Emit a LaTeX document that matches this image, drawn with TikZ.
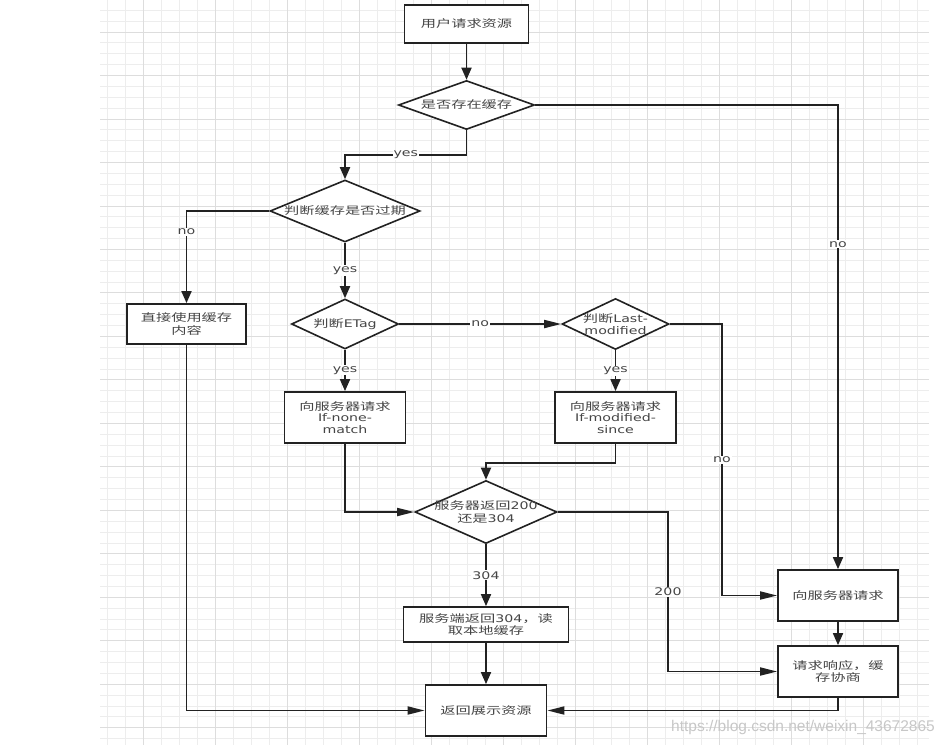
\documentclass[tikz,border=0pt]{standalone}
\usepackage{fontspec}
\newfontfamily\cjk[FakeStretch=1.45]{Noto Sans CJK SC}
\newfontfamily\lat[FakeStretch=1.35]{DejaVu Sans}
\newfontfamily\wmfont{Liberation Sans}
\usetikzlibrary{arrows.meta,shapes.geometric}
\definecolor{ink}{HTML}{222222}
\definecolor{txtc}{HTML}{454545}
\definecolor{gridc}{HTML}{EDEDED}
\definecolor{gridd}{HTML}{DDDDDD}
\tikzset{
  box/.style={draw=ink, line width=1.8pt, fill=white, inner sep=0pt},
  dia/.style={diamond, draw=ink, line width=1.6pt, fill=white, inner sep=0pt},
  txt/.style={text=txtc, font=\cjk\fontsize{10.5}{12.5}\selectfont, align=center, inner sep=0pt},
  lbl/.style={fill=white, text=txtc, font=\lat\fontsize{10.5}{12}\selectfont, inner sep=1pt},
  wire/.style={draw=ink, line width=1.8pt},
  conn/.style={wire, -{Triangle[length=12pt,width=10pt]}},
  connh/.style={wire, -{Triangle[length=17pt,width=8pt]}},
}
\begin{document}
\begin{tikzpicture}[x=1pt,y=-1pt]
\useasboundingbox (0,0) rectangle (949,745);
\fill[white] (0,0) rectangle (949,745);
% grid
\foreach \i in {0,...,45} \draw[gridc, line width=0.8pt] ({107+18*\i},0) -- ({107+18*\i},745);
\foreach \j in {0,...,67} \draw[gridc, line width=0.8pt] (100,{10.26+10.87*\j}) -- (929,{10.26+10.87*\j});
\foreach \i in {0,...,10} \draw[gridd, line width=0.8pt] ({143+72*\i},0) -- ({143+72*\i},745);
\foreach \j in {0,...,16} \draw[gridd, line width=0.8pt] (100,{32+43.48*\j}) -- (929,{32+43.48*\j});

\coordinate (k1) at (722,324);
\coordinate (k2) at (668,512);

% nodes
\node[box, minimum width=124pt, minimum height=38pt] (s) at (466.5,24) {};
\node[txt] (st) at (s) {用户请求资源};
\node[dia, minimum width=136pt, minimum height=49pt] (d1) at (466.5,105) {};
\node[txt] (d1t) at (d1) {是否存在缓存};
\node[dia, minimum width=150pt, minimum height=62pt] (d2) at (345,211) {};
\node[txt] (d2t) at (d2) {判断缓存是否过期};
\node[box, minimum width=119pt, minimum height=40pt] (bd) at (186.5,324) {};
\node[txt] (bdt) at (bd) {直接使用缓存\\内容};
\node[dia, minimum width=107pt, minimum height=50pt] (d3) at (345,324) {};
\node[txt] (d3t) at (d3) {判断{\lat ETag}};
\node[dia, minimum width=107pt, minimum height=51pt] (d4) at (615.5,324) {};
\node[txt] (d4t) at (d4) {判断{\lat Last-}\\{\lat modified}};
\node[box, minimum width=121pt, minimum height=51pt] (bn) at (345,417.5) {};
\node[txt, font=\cjk\fontsize{10.5}{11.5}\selectfont] (bnt) at (bn) {向服务器请求\\{\lat If-none-}\\{\lat match}};
\node[box, minimum width=121pt, minimum height=51pt] (bm) at (615.5,417.5) {};
\node[txt, font=\cjk\fontsize{10.5}{11.5}\selectfont] (bmt) at (bm) {向服务器请求\\{\lat If-modified-}\\{\lat since}};
\node[dia, minimum width=142pt, minimum height=63pt] (d5) at (486,512) {};
\node[txt] (d5t) at (d5) {服务器返回{\lat 200}\\还是{\lat 304}};
\node[box, minimum width=165pt, minimum height=35pt] (b3) at (486,624.5) {};
\node[txt] (b3t) at (b3) {服务端返回{\lat 304}，读\\取本地缓存};
\node[box, minimum width=121pt, minimum height=51pt] (br) at (486,710.5) {};
\node[txt] (brt) at (br) {返回展示资源};
\node[box, minimum width=120pt, minimum height=51pt] (bq) at (838,595.5) {};
\node[txt] (bqt) at (bq) {向服务器请求};
\node[box, minimum width=120pt, minimum height=51pt] (bs) at (838,671.5) {};
\node[txt] (bst) at (bs) {请求响应，缓\\存协商};

% connectors
\draw[conn] (s) -- (d1);
\draw[conn] (d1.south) -- (d1.south |- 0,155) -| (d2.north) node[lbl, pos=0.25] {yes};
\draw[conn] (d1.east) -| (bq.north) node[lbl, pos=0.65] {no};
\draw[conn] (d2.west) -| (bd.north) node[lbl, pos=0.613] {no};
\draw[conn] (d2.south) -- (d3.north) node[lbl, midway] {yes};
\draw[connh] (d3.east) -- (d4.west) node[lbl, midway] {no};
\draw[conn] (d3.south) -- (bn.north) node[lbl, midway] {yes};
\draw[conn] (d4.south) -- (bm.north) node[lbl, midway] {yes};
\draw[connh] (d4.east) -- (k1) |- (bq.west) node[lbl, pos=0.25] {no};
\draw[connh] (bn.south) |- (d5.west);
\draw[conn] (bm.south) -- ++(0,19) -| (d5.north);
\draw[connh] (d5.east) -- (k2) |- (bs.west) node[lbl, pos=0.25] {200};
\draw[conn] (d5.south) -- (b3.north) node[lbl, midway] {304};
\draw[conn] (b3) -- (br);
\draw[connh] (bd.south) |- (br.west);
\draw[conn] (bq) -- (bs);
\draw[connh] (bs.south) |- (br.east);

% watermark
\node[font=\wmfont\fontsize{15.5}{15.5}\selectfont, text=black!22, inner sep=0pt] (wm) at (803,727) {https://blog.csdn.net/weixin\_43672865};
\end{tikzpicture}
\end{document}
